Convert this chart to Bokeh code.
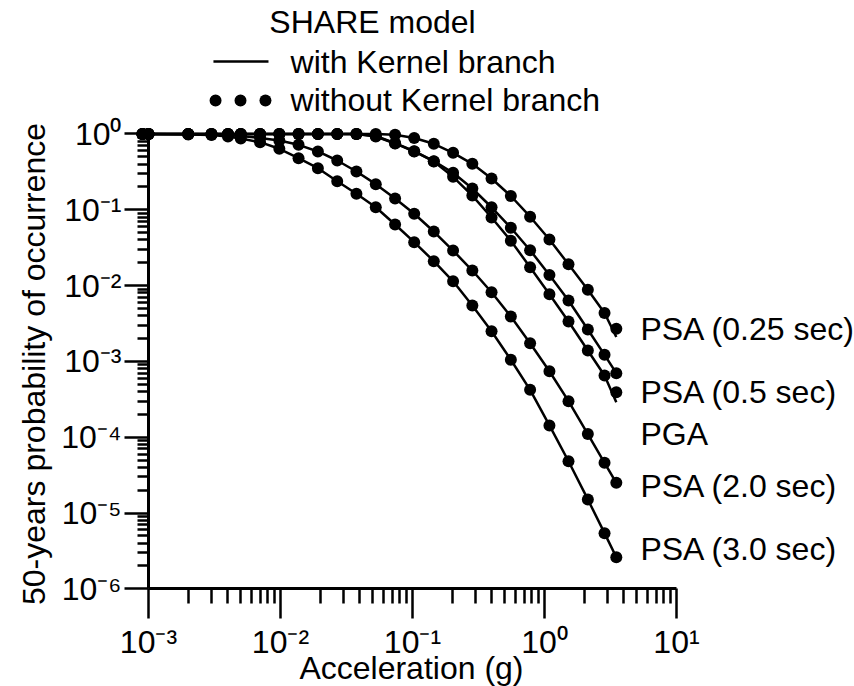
import math
from bokeh.plotting import figure
from bokeh.models import Range1d, FixedTicker, CustomJSTickFormatter, Label
from bokeh.embed import file_html
from bokeh.resources import INLINE

# ---------------- data ----------------
accel = [0.0009, 0.001, 0.002, 0.003, 0.004, 0.005, 0.007, 0.0098, 0.0137, 0.0192,
         0.0269, 0.0376, 0.0527, 0.0738, 0.103, 0.145, 0.203, 0.284, 0.397, 0.556,
         0.778, 1.09, 1.52, 2.13, 2.85, 3.5]

# "without Kernel branch" (dots)
psa025_dots = [1, 1, 1, 1, 1, 1, 1, 1, 1, 1, 1, 1, 1, 0.976, 0.885, 0.743, 0.565,
               0.404, 0.259, 0.152, 0.0811, 0.0406, 0.0191, 0.00881, 0.00435, 0.00269]
psa05_dots = [1, 1, 1, 1, 1, 1, 1, 1, 1, 1, 1, 1, 0.927, 0.75, 0.588, 0.434, 0.272,
              0.154, 0.0791, 0.039, 0.0175, 0.0077, 0.00336, 0.00139, 0.000652, 0.000393]
pga_dots = [1, 1, 1, 1, 1, 1, 1, 1, 1, 1, 1, 1, 0.94, 0.756, 0.593, 0.438, 0.308,
            0.191, 0.108, 0.0579, 0.0293, 0.0138, 0.00636, 0.00264, 0.00122, 0.000699]
psa20_dots = [1, 1, 1, 0.985, 0.97, 0.941, 0.886, 0.821, 0.72, 0.588, 0.447, 0.32,
              0.218, 0.141, 0.0886, 0.0517, 0.029, 0.0158, 0.00818, 0.00391, 0.00174,
              0.000742, 0.000299, 0.000110, 4.59e-5, 2.50e-5]
psa30_dots = [1, 1, 0.985, 0.97, 0.927, 0.872, 0.78, 0.638, 0.48, 0.354, 0.238, 0.163,
              0.108, 0.064, 0.0374, 0.021, 0.0114, 0.00546, 0.0025, 0.00105, 0.000422,
              0.000143, 4.82e-5, 1.51e-5, 5.42e-6, 2.61e-6]

# "with Kernel branch" (lines)
psa025_line = psa025_dots[:-1] + [0.0021]
psa05_line = psa05_dots[:-1] + [0.00029]
pga_line = list(pga_dots)
psa20_line = list(psa20_dots)
psa30_line = list(psa30_dots)

curve_names = ["PSA (0.25 sec)", "PSA (0.5 sec)", "PGA", "PSA (2.0 sec)", "PSA (3.0 sec)"]
curve_label_y = [2.64e-3, 4.0e-4, 1.09e-4, 2.24e-5, 3.4e-6]
curve_label_x = 5.33

x_major = [1e-3, 1e-2, 1e-1, 1, 10]
y_major = [1e-6, 1e-5, 1e-4, 1e-3, 1e-2, 1e-1, 1]

FONT = "Liberation Sans"
FS = "32px"

p = figure(width=854, height=686, x_axis_type="log", y_axis_type="log",
           x_range=Range1d(10 ** -4.1212, 10 ** 2.3485),
           y_range=Range1d(10 ** -7.2889, 10 ** 1.7612),
           output_backend="svg", toolbar_location=None)
p.min_border_left = 0
p.min_border_right = 0
p.min_border_top = 0
p.min_border_bottom = 0
p.outline_line_color = None
p.xgrid.visible = False
p.ygrid.visible = False

fmt_code = """
const e = Math.round(Math.log10(tick));
const m = {"-":"\\u207b","0":"\\u2070","1":"\\u00b9","2":"\\u00b2","3":"\\u00b3","4":"\\u2074",
           "5":"\\u2075","6":"\\u2076","7":"\\u2077","8":"\\u2078","9":"\\u2079"};
return "10" + String(e).split("").map(c => m[c]).join("");
"""

xa = p.xaxis[0]
xa.fixed_location = 1e-6
xa.bounds = (1e-3, 10)
xa.ticker = FixedTicker(ticks=x_major,
                        minor_ticks=[m * 10.0 ** k for k in range(-3, 1) for m in range(2, 10)])
xa.formatter = CustomJSTickFormatter(code=fmt_code)
xa.major_tick_out = 30
xa.major_tick_in = 0
xa.minor_tick_out = 15
xa.minor_tick_in = 0
xa.major_label_standoff = 5

ya = p.yaxis[0]
ya.fixed_location = 1e-3
ya.bounds = (1e-6, 1)
ya.ticker = FixedTicker(ticks=y_major,
                        minor_ticks=[m * 10.0 ** k for k in range(-6, 0) for m in range(2, 10)])
ya.formatter = CustomJSTickFormatter(code=fmt_code)
ya.major_tick_out = 24
ya.major_tick_in = 0
ya.minor_tick_out = 11
ya.minor_tick_in = 0
ya.major_label_standoff = 3

for ax in (xa, ya):
    ax.axis_line_width = 3
    ax.axis_line_color = "black"
    ax.major_tick_line_width = 2.5
    ax.minor_tick_line_width = 2.5
    ax.major_tick_line_color = "black"
    ax.minor_tick_line_color = "black"
    ax.major_label_text_font = FONT
    ax.major_label_text_font_size = FS
    ax.major_label_text_color = "black"

# curves
for line_vals, dot_vals in [(psa025_line, psa025_dots), (psa05_line, psa05_dots),
                            (pga_line, pga_dots), (psa20_line, psa20_dots),
                            (psa30_line, psa30_dots)]:
    p.line(accel, line_vals, line_color="black", line_width=2.5)
    p.scatter(accel, dot_vals, size=12, fill_color="black", line_color="black", line_width=0)


def add_text(x, y, text, align="left", angle=0.0):
    p.add_layout(Label(x=x, y=y, text=text, text_font=FONT, text_font_size=FS,
                       text_baseline="middle", text_align=align, text_color="black",
                       angle=angle))


# curve labels
for name, yv in zip(curve_names, curve_label_y):
    add_text(curve_label_x, yv, name)

# axis titles
add_text(10 ** -1.008, 10 ** -7.05, "Acceleration (g)", align="center")
add_text(10 ** -3.871, 10 ** -3.034, "50-years probability of occurrence", align="center",
         angle=math.pi / 2)

# legend (drawn above the axes)
add_text(10 ** -1.303, 10 ** 1.471, "SHARE model", align="center")
p.line([10 ** -2.508, 10 ** -2.091], [10 ** 0.956, 10 ** 0.956], line_color="black", line_width=2.5)
p.scatter([10 ** -2.492, 10 ** -2.303, 10 ** -2.114], [10 ** 0.442] * 3, size=12,
          fill_color="black", line_color="black", line_width=0)
add_text(10 ** -1.924, 10 ** 0.956, "with Kernel branch")
add_text(10 ** -1.924, 10 ** 0.442, "without Kernel branch")

open("out.html", "w").write(file_html(p, INLINE))
